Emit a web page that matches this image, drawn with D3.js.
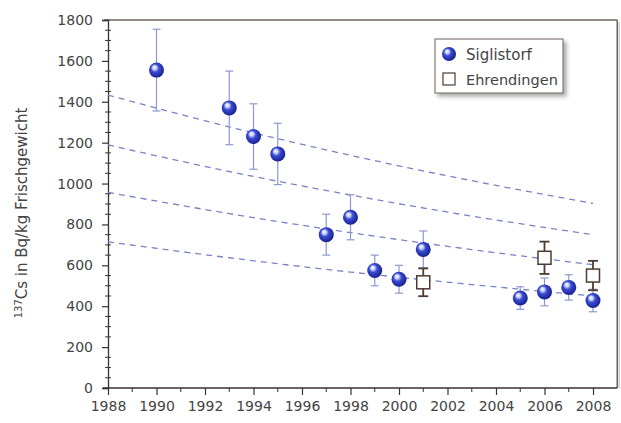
<!DOCTYPE html>
<html>
<head>
<meta charset="utf-8">
<script src="https://cdn.jsdelivr.net/npm/d3@7"></script>
<style>
  body { margin: 0; background: #fff; }
  svg text { font-family: "DejaVu Sans", sans-serif; fill: #444; }
</style>
</head>
<body>
<div id="chart"></div>
<script>
// Siglistorf measurements (value and +/- error)
const sigYears = [1990, 1993, 1994, 1995, 1997, 1998, 1999, 2000, 2001, 2005, 2006, 2007, 2008];
const sigValues = [1555, 1370, 1230, 1145, 750, 835, 575, 532, 678, 440, 470, 492, 428];
const sigErrors = [200, 180, 160, 150, 100, 110, 75, 68, 90, 55, 68, 62, 55];

// Ehrendingen measurements
const ehrYears = [2001, 2006, 2008];
const ehrValues = [517, 637, 550];
const ehrErrors = [68, 79, 72];

// dashed reference curves, read at a few years
const decayYears = [1988, 1993, 1998, 2003, 2008];
const decay1 = [1433, 1277, 1138, 1014, 903];
const decay2 = [1189, 1059, 944, 841, 750];
const decay3 = [957, 853, 760, 677, 603];
const decay4 = [715, 637, 567, 506, 450];

const yTicks = [0, 200, 400, 600, 800, 1000, 1200, 1400, 1600, 1800];
const xTicks = [1988, 1990, 1992, 1994, 1996, 1998, 2000, 2002, 2004, 2006, 2008];

const W = 621, H = 423;
const svg = d3.select("#chart").append("svg")
    .attr("width", W)
    .attr("height", H);

const x = d3.scaleLinear().domain([1988, 2008]).range([108, 593]);
const y = d3.scaleLinear().domain([0, 1800]).range([388, 20]);

const defs = svg.append("defs");
const grad = defs.append("radialGradient")
    .attr("id", "ball")
    .attr("cx", "45%").attr("cy", "45%").attr("r", "60%")
    .attr("fx", "35%").attr("fy", "30%");
grad.append("stop").attr("offset", "0%").attr("stop-color", "#ffffff");
grad.append("stop").attr("offset", "22%").attr("stop-color", "#c8d0ff");
grad.append("stop").attr("offset", "45%").attr("stop-color", "#3a4cd0");
grad.append("stop").attr("offset", "85%").attr("stop-color", "#1e28a0");
grad.append("stop").attr("offset", "100%").attr("stop-color", "#121870");

const shadow = defs.append("filter").attr("id", "shadow")
    .attr("x", "-10%").attr("y", "-10%").attr("width", "130%").attr("height", "140%");
shadow.append("feDropShadow")
    .attr("dx", 3).attr("dy", 3).attr("stdDeviation", 2)
    .attr("flood-color", "#000").attr("flood-opacity", 0.35);

// frame (top and right)
const frameColor = "#6d625b";
svg.append("line")
    .attr("x1", 104).attr("x2", x(2009)).attr("y1", y(1800)).attr("y2", y(1800))
    .attr("stroke", frameColor).attr("stroke-width", 1.5);
svg.append("line")
    .attr("x1", x(2009)).attr("x2", x(2009)).attr("y1", y(1800)).attr("y2", y(0))
    .attr("stroke", frameColor).attr("stroke-width", 1.5);
svg.append("line")
    .attr("x1", x(2009) + 2).attr("x2", x(2009) + 2).attr("y1", y(1800) + 2).attr("y2", y(0))
    .attr("stroke", "#ccc").attr("stroke-width", 1.5);

// axes
const axisColor = "#3a332f";
const yAxis = svg.append("g")
    .attr("transform", `translate(${x(1988)},0)`)
    .call(d3.axisLeft(y).tickValues(yTicks).tickFormat(d3.format("d")).tickSize(6).tickPadding(9));
yAxis.select(".domain").attr("stroke", axisColor).attr("stroke-width", 1.3);
yAxis.selectAll(".tick line").attr("stroke", axisColor).attr("stroke-width", 1.2).attr("x2", -6).attr("x1", 1);
yAxis.selectAll(".tick text").style("font-size", "14px").attr("fill", "#444");

const yMinor = d3.range(50, 1800, 50).filter(v => v % 200 !== 0);
svg.append("g").selectAll("line")
    .data(yMinor)
    .join("line")
    .attr("x1", x(1988) - 3).attr("x2", x(1988) + 3)
    .attr("y1", d => y(d)).attr("y2", d => y(d))
    .attr("stroke", axisColor).attr("stroke-width", 1);

const xAxis = svg.append("g")
    .attr("transform", `translate(0,${y(0)})`)
    .call(d3.axisBottom(x).tickValues(xTicks).tickFormat(d3.format("d")).tickSize(7).tickPadding(6));
xAxis.select(".domain").remove();
xAxis.selectAll(".tick line").attr("stroke", axisColor).attr("stroke-width", 1.2);
xAxis.selectAll(".tick text").style("font-size", "14px").attr("fill", "#444");
svg.append("line")
    .attr("x1", 103).attr("x2", x(2009)).attr("y1", y(0)).attr("y2", y(0))
    .attr("stroke", axisColor).attr("stroke-width", 1.3);

const xMinor = d3.range(1989, 2009, 2);
svg.append("g").selectAll("line")
    .data(xMinor)
    .join("line")
    .attr("x1", d => x(d)).attr("x2", d => x(d))
    .attr("y1", y(0)).attr("y2", y(0) + 4)
    .attr("stroke", axisColor).attr("stroke-width", 1);

// y label
const yLabel = svg.append("text")
    .attr("transform", `translate(27,213) rotate(-90)`)
    .attr("text-anchor", "middle")
    .style("font-size", "15px");
yLabel.append("tspan").attr("dy", "-5").style("font-size", "10px").text("137");
yLabel.append("tspan").attr("dy", "5").text("Cs in Bq/kg Frischgewicht");

// dashed curves
const line = d3.line()
    .x(d => x(d[0]))
    .y(d => y(d[1]))
    .curve(d3.curveMonotoneX);
[decay1, decay2, decay3, decay4].forEach(function (vals) {
    svg.append("path")
        .datum(decayYears.map((yr, i) => [yr, vals[i]]))
        .attr("fill", "none")
        .attr("stroke", "#7784c6")
        .attr("stroke-width", 1.3)
        .attr("stroke-dasharray", "6,5")
        .attr("d", line);
});

// error bars
function errorBars(years, values, errors, color, width, cap) {
    const g = svg.append("g").attr("stroke", color).attr("stroke-width", width);
    years.forEach(function (yr, i) {
        const cx = x(yr);
        const top = y(values[i] + errors[i]);
        const bot = y(values[i] - errors[i]);
        g.append("line").attr("x1", cx).attr("x2", cx).attr("y1", top).attr("y2", bot);
        g.append("line").attr("x1", cx - cap).attr("x2", cx + cap).attr("y1", top).attr("y2", top);
        g.append("line").attr("x1", cx - cap).attr("x2", cx + cap).attr("y1", bot).attr("y2", bot);
    });
}
errorBars(sigYears, sigValues, sigErrors, "#8c98d0", 1.2, 4);
errorBars(ehrYears, ehrValues, ehrErrors, "#4e3b33", 1.8, 5);

// markers
svg.append("g").selectAll("circle")
    .data(sigYears)
    .join("circle")
    .attr("cx", d => x(d))
    .attr("cy", (d, i) => y(sigValues[i]))
    .attr("r", 7.5)
    .attr("fill", "url(#ball)");

svg.append("g").selectAll("rect")
    .data(ehrYears)
    .join("rect")
    .attr("x", d => x(d) - 6.5)
    .attr("y", (d, i) => y(ehrValues[i]) - 6.5)
    .attr("width", 13)
    .attr("height", 13)
    .attr("fill", "#fff")
    .attr("stroke", "#4e3b33")
    .attr("stroke-width", 1.5);

// legend
const legend = svg.append("g").attr("transform", "translate(435,39)");
legend.append("rect")
    .attr("width", 128).attr("height", 54)
    .attr("fill", "#fff")
    .attr("stroke", "#6d625b").attr("stroke-width", 1)
    .attr("filter", "url(#shadow)");
legend.append("circle").attr("cx", 14).attr("cy", 15).attr("r", 7).attr("fill", "url(#ball)");
legend.append("rect").attr("x", 8).attr("y", 34).attr("width", 12).attr("height", 12)
    .attr("fill", "#fff").attr("stroke", "#4e3b33").attr("stroke-width", 1.2);
legend.append("text").attr("x", 31).attr("y", 20.5).style("font-size", "15px").text("Siglistorf");
legend.append("text").attr("x", 31).attr("y", 45.5).style("font-size", "14.5px").text("Ehrendingen");
</script>
</body>
</html>
